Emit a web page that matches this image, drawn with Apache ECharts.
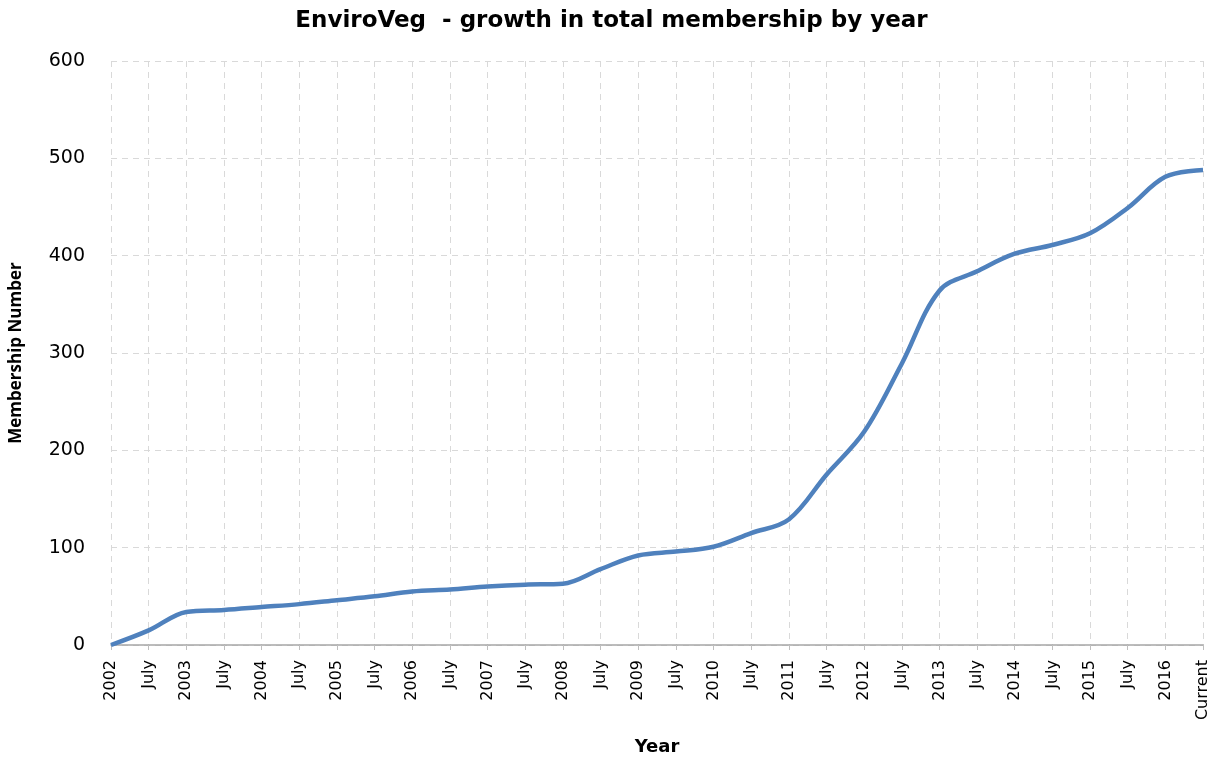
<!DOCTYPE html>
<html>
<head>
<meta charset="utf-8">
<script src="https://cdn.jsdelivr.net/npm/echarts@6/dist/echarts.min.js"></script>
<style>html,body{margin:0;padding:0;background:#fff;}#c{width:1223px;height:761px;}</style>
</head>
<body>
<div id="c"></div>
<script>
const categories = ['2002','July','2003','July','2004','July','2005','July','2006','July','2007','July','2008','July','2009','July','2010','July','2011','July','2012','July','2013','July','2014','July','2015','July','2016','Current'];
const membership = [0,15,34,36,39,42,46,50,55,57,60,62,63,78,92,96,101,115,129,175,219,289,364,384,402,411,423,449,481,488];
const yTicks = [0,100,200,300,400,500,600];

const chart = echarts.init(document.getElementById('c'));
const wide = '"DejaVu Sans", Verdana, sans-serif';
const narrow = '"Open Sans", "Noto Sans", sans-serif';
chart.setOption({
  animation: false,
  title: {
    text: 'EnviroVeg  - growth in total membership by year',
    left: 'center', top: 5,
    textStyle: {fontFamily: wide, fontWeight: 'bold', fontSize: 23, color: '#000'}
  },
  grid: {left: 111, right: 20, top: 61, bottom: 115},
  xAxis: {
    type: 'category', data: categories, boundaryGap: false,
    name: 'Year', nameLocation: 'middle', nameGap: 93,
    nameTextStyle: {fontFamily: wide, fontWeight: 'bold', fontSize: 18, color: '#000'},
    axisLine: {lineStyle: {color: '#a6a6a6', width: 1.5}},
    axisTick: {show: true, length: 5, lineStyle: {color: '#bfbfbf'}},
    axisLabel: {rotate: 90, fontFamily: wide, fontSize: 16, color: '#000', margin: 15, interval: 0},
    splitLine: {show: true, lineStyle: {color: '#d9d9d9', type: [6, 5], width: 1}}
  },
  yAxis: {
    type: 'value', min: 0, max: 600, interval: 100,
    name: 'Membership Number', nameLocation: 'middle', nameGap: 86,
    nameTextStyle: {fontFamily: narrow, fontWeight: 'bold', fontSize: 17, color: '#000'},
    axisLine: {show: false}, axisTick: {show: false},
    axisLabel: {fontFamily: wide, fontSize: 19, color: '#000', margin: 26,
      formatter: v => yTicks.includes(v) ? String(v) : ''},
    splitLine: {show: true, lineStyle: {color: '#d9d9d9', type: [6, 5], width: 1}}
  },
  series: [{
    type: 'line', data: membership, smooth: 0.35, showSymbol: false,
    lineStyle: {color: '#4f81bd', width: 4.5}
  }]
});
</script>
</body>
</html>
